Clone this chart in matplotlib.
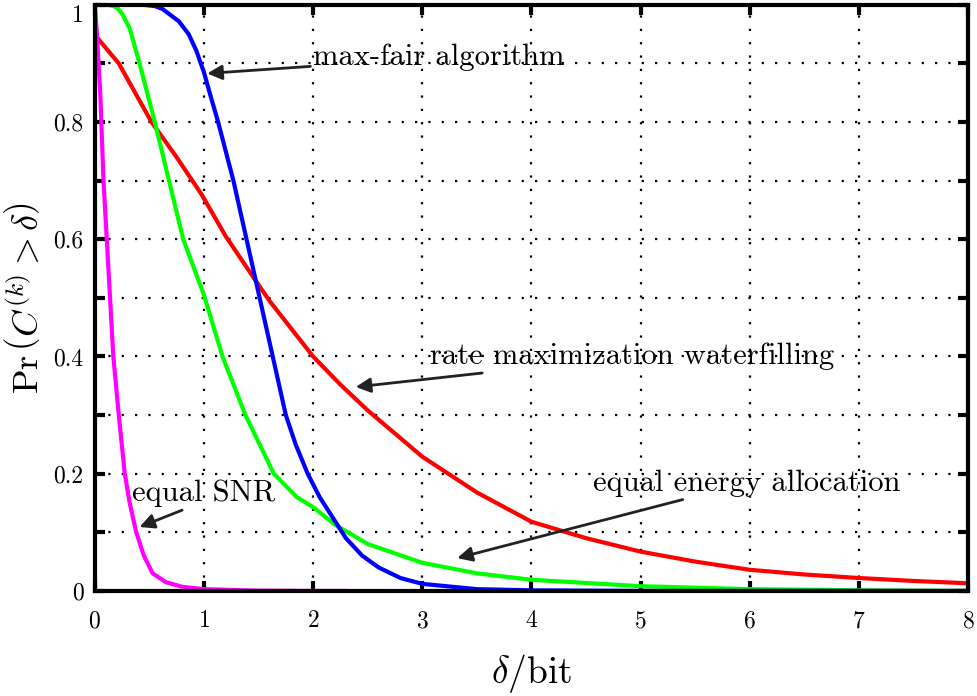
import matplotlib
matplotlib.use("Agg")
import matplotlib.pyplot as plt
import numpy as np

plt.rcParams['font.family'] = 'serif'
plt.rcParams['font.serif'] = ['cmr10']
plt.rcParams['mathtext.fontset'] = 'cm'
plt.rcParams['axes.formatter.use_mathtext'] = True

# values
xMaxFair = [0, 0.45, 0.55, 0.62, 0.67, 0.77, 0.86, 0.93, 1.0, 1.06, 1.13, 1.27, 1.39, 1.51,
            1.63, 1.75, 1.84, 1.95, 2.06, 2.18, 2.3, 2.45, 2.6, 2.8, 3.0, 3.5, 4.0, 5.0, 8.0]
yMaxFair = [1, 1, 0.998, 0.993, 0.986, 0.972, 0.95, 0.922, 0.885, 0.845, 0.8, 0.7, 0.6,
            0.5, 0.4, 0.3, 0.25, 0.2, 0.16, 0.125, 0.09, 0.06, 0.04, 0.022, 0.012, 0.003,
            0.001, 0, 0]

xEnergy = [0, 0.12, 0.17, 0.21, 0.25, 0.32, 0.41, 0.55, 0.68, 0.81, 1.0, 1.17, 1.38, 1.64,
           1.85, 2.0, 2.2, 2.5, 3.0, 3.5, 4.0, 5.0, 6.0, 7.0, 8.0]
yEnergy = [1, 1, 0.998, 0.994, 0.985, 0.96, 0.9, 0.8, 0.7, 0.6, 0.505, 0.4, 0.3, 0.2,
           0.16, 0.143, 0.113, 0.08, 0.048, 0.03, 0.019, 0.008, 0.003, 0.001, 0]

xWaterfill = [0, 0.22, 0.52, 0.75, 0.98, 1.2, 1.45, 1.6, 2.0, 2.25, 2.5, 3.0, 3.5, 4.0,
              4.5, 5.0, 5.5, 6.0, 6.5, 7.0, 7.5, 8.0]
yWaterfill = [0.949, 0.9, 0.8, 0.74, 0.676, 0.605, 0.536, 0.495, 0.4, 0.352, 0.308, 0.229,
              0.168, 0.118, 0.09, 0.067, 0.05, 0.036, 0.028, 0.022, 0.017, 0.013]

xSnr = [0, 0.02, 0.05, 0.08, 0.11, 0.14, 0.17, 0.22, 0.275, 0.32, 0.38, 0.45, 0.53, 0.65,
        0.8, 1.0, 1.5, 2.0, 2.3]
ySnr = [1, 0.95, 0.85, 0.7, 0.6, 0.5, 0.4, 0.3, 0.2, 0.15, 0.1, 0.06, 0.03, 0.015,
        0.007, 0.003, 0.0005, 0, 0]

fig = plt.figure(figsize=(9.77, 6.96), dpi=100)
ax = fig.add_axes([0.097, 0.151, 0.894, 0.842])

ax.plot(xWaterfill, yWaterfill, color=(1, 0, 0), lw=3)
ax.plot(xEnergy, yEnergy, color=(0, 1, 0), lw=3)
ax.plot(xMaxFair, yMaxFair, color=(0, 0, 1), lw=3)
ax.plot(xSnr, ySnr, color=(1, 0, 1), lw=3)

ax.set_xlim(0, 8)
ax.set_ylim(0, 1)
ax.set_xticks(range(0, 9))
yTicks = np.round(np.arange(0, 1.01, 0.1), 1)
ax.set_yticks(yTicks)
ax.set_yticklabels([('%g' % v) if round(v * 10) % 2 == 0 else '' for v in yTicks])
ax.tick_params(direction='in', length=7, width=3, labelsize=17, top=True, right=True)
ax.tick_params(axis='x', pad=14)
ax.tick_params(axis='y', pad=8)
# top label sits below the tick, as in the original export
ax.yaxis.get_major_ticks()[-1].label1.set_verticalalignment('top')
for spine in ax.spines.values():
    spine.set_linewidth(3)

ax.grid(True, color='black', linestyle=(0, (1, 5)), linewidth=1.6)

ax.set_xlabel(r'$\delta/\mathrm{bit}$', fontsize=27, labelpad=14)
ax.set_ylabel(r'$\mathrm{Pr}\,\left(C^{(k)} > \delta\right)$', fontsize=26, labelpad=6)

arrowStyle = dict(arrowstyle='-|>', color='#222222', lw=2, mutation_scale=22,
                  shrinkA=0, shrinkB=0)
fontSize = 22
ax.annotate('max-fair algorithm', xy=(1.03, 0.883), xytext=(2.0, 0.91),
            fontsize=fontSize, va='center', ha='left', arrowprops=arrowStyle)
ax.annotate('rate maximization waterfilling', xy=(2.39, 0.348), xytext=(3.07, 0.40),
            fontsize=fontSize, va='center', ha='left', arrowprops=arrowStyle)
ax.annotate('equal energy allocation', xy=(3.32, 0.056), xytext=(4.56, 0.184),
            fontsize=fontSize, va='center', ha='left', arrowprops=arrowStyle)
ax.annotate('equal SNR', xy=(0.41, 0.109), xytext=(0.34, 0.166),
            fontsize=fontSize, va='center', ha='left',
            arrowprops=dict(arrowStyle, relpos=(0.4, 0)))

fig.savefig('out.png', dpi=100)
